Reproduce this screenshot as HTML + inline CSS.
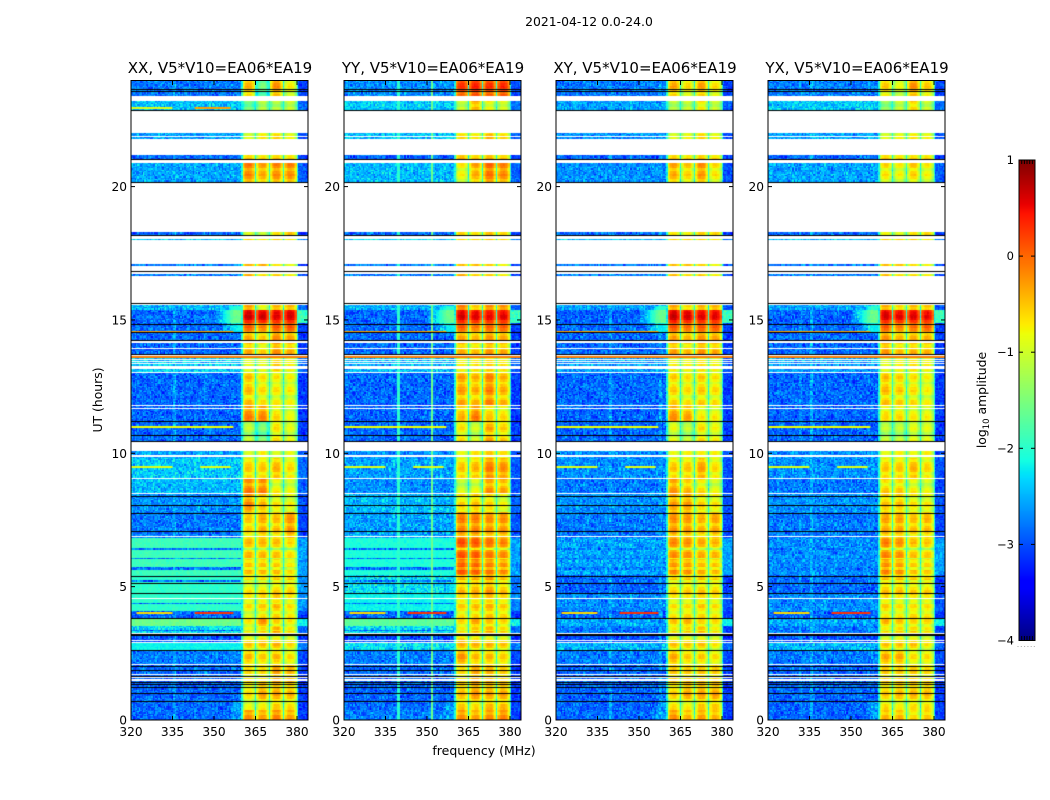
<!DOCTYPE html>
<html><head><meta charset="utf-8"><title>Dynamic spectra 2021-04-12</title>
<style>
html,body{margin:0;padding:0;background:#fff;width:1050px;height:800px;overflow:hidden}
#fig{position:relative;width:1050px;height:800px;background:#fff}
canvas{position:absolute;display:block}
svg{position:absolute;left:0;top:0}
text{font-family:"DejaVu Sans","Liberation Sans",sans-serif;fill:#000}
</style></head>
<body>
<div id="fig">
<svg id="ov" width="1050" height="800"></svg>
</div>
<script>
// ---- shared chart data (hours, MHz, log10 amplitude) ----
const xTickValues=[320,335,350,365,380];
const yTickValues=[0,5,10,15,20];
const colorbarTicks=[1,0,-1,-2,-3,-4];
const rowStarts=[0,.4,.71,1.46,2.1,2.62,2.89,3.26,3.56,3.82,4.12,4.76,5.44,6.86,7.8,8.5,9.03,9.86,10.45,11.2,11.8,13.05,13.76,14.55,14.88,15.41,16,16.9,17.5,18.15,20,21,21.5,22.5,23.3];
const subBandEdges=[[360.5,365],[365.5,370],[370.5,375],[375.5,380]];
const subBandShape=[-.5,-.25,-.08,0,0,0,0,-.08,-.25,-.5];
const flaggedBands=[[23.21,23.4],[22.05,22.85],[22,22.03],[21.86,21.9],[21.19,21.78],[20.89,21.03],[18.3,20.17],[18.03,18.15],[17.1,18],[17.02,17.04],[16.73,16.97],[15.56,16.66],[14.15,14.2],[13.9,13.95],[13.65,13.7],[13.5,13.55],[13.42,13.45],[13.34,13.37],[13.17,13.26],[13.02,13.06],[11.76,11.81],[11.67,11.71],[10.08,10.43],[9.86,9.94],[9.04,9.07],[8.5,8.53],[6.85,6.89],[4.55,4.59],[3.25,3.27],[2.98,3.01],[2.89,2.92],[2.07,2.1],[1.67,1.71],[1.57,1.6],[1.46,1.53]];
const zeroLines=[23.67,23.58,22.87,21.05,20.19,18.17,16.82,15.63,14.86,14.53,14.26,13.72,11.21,10.7,10.45,8.39,8.06,7.77,7.07,5.41,5.13,4.76,3.82,3.24,3.19,2.64,2.04,1.89,1.65,1.44,1.35,1.25,1,.71];
const darkStripes=[[6.38,6.47],[6.03,6.11],[5.67,5.75],[5.2,5.27],[4.36,4.42],[3.36,3.42]];
const riseBands=[[14.88,15.41,350,360.5,-1.6],[15.41,15.56,354,360.5,-2],[0,.7,356,360.5,-2.6],[14.55,14.88,352,360.5,-2.2]];
const tailBands=[[14.88,15.41,-1.9],[3.56,3.82,-2.2],[5.44,6.86,-2.6]];
// hour, start MHz, end MHz, level, panel (-1 = all panels)
const rfiLines=[[23.0,320,335,-.9,0],[23.0,343,356,-.3,0],[14.6,320,357,-.3,-1],[13.63,320,384,-.1,-1],[11.03,320,357,-.8,-1],[9.53,320,335,-.9,-1],[9.53,345,356,-.9,-1],[4.04,322,335,-.6,-1],[4.04,343,357,.3,-1]];
const stripeOffsets=[0,-.1,-.4,-.2,.05,0,-.3,-.5,-.1,.1,0,-.2,-.45,-.15,.05,-.1,-.35,0,.1];
const grainValues=[.7,-.4,.1,-.9,.5,-.2,.9,-.6,.3,-.1,-.8,.6,.2,-.5,1,-.3,.4,-.7,0,.8,-1,.3,-.2,.6,-.6,.1,.9,-.4,-.8,.5,-.1,.7,-.5,.2,-.9,.4,-.3,.8,-.7,0,.6];

const xxBackground=[-3,-3,-3,-3,-2.9,-2.3,-3.1,-2.4,-1.7,-3,-2.1,-2.1,-2,-2.9,-2.8,-2.6,-2.5,-2.7,-3,-3,-3,-2.5,-3,-3,-3,-2.6,-2.9,-2.9,-2.5,-3,-2.7,-3,-2.7,-2.55,-2.9];
const xxSubBands=[[-.1,-.2,-.05,-.2],[-.8,-.7,-.5,-.6],[-.6,-.3,-.3,-.4],[-.6,-.6,-.3,-.4],[-.4,-.5,-.4,-.6],[-.5,-.5,-.4,-.6],[-.6,-.5,-.6,-.7],[-.7,-.5,-.3,-.6],[-.7,-.2,-.6,-.7],[-.8,-.6,-.5,-.6],[-.6,-.5,-.4,-.6],[-.6,-.6,-.5,-.5],[-.4,-.4,-.45,-.6],[-.5,-.35,-.45,-.2],[-.1,-.35,-.6,-.7],[-.05,-.1,-.7,-.8],[-.5,-.5,-.4,-.6],[-.9,-.7,-.9,-.8],[-1,-1.4,-.6,-.8],[-.1,-.15,-.6,-.8],[-.4,-.6,-.65,-.7],[-.8,-.8,-.5,-.7],[-.3,-.5,-.15,-.3],[.1,-.1,.1,.15],[.65,.6,.55,.6],[-.1,-.6,-.2,-.2],[-.3,-.6,-.5,-.7],[-.4,-.4,-.7,-.9],[-.6,-.7,-.6,-.7],[-.7,-.9,-.5,-.3],[-.1,-.3,-.15,-.15],[-.3,-.4,-.3,-.4],[-.9,-.7,-.6,-.8],[-1.4,-1,-1,-.9],[-.35,-1.5,-.2,-.7]];
const xxVerticals=[[336,-2.6],[347,-2.7]];

const yyBackground=[-2.9,-3,-3,-3,-2.9,-2.4,-3.1,-2.4,-1.8,-3,-2.3,-2.4,-2.2,-2.7,-2.6,-2.8,-2.7,-2.8,-3,-3,-3,-2.6,-3,-3,-3,-2.6,-2.9,-2.9,-2.4,-3,-2.6,-3,-2.55,-2.5,-2.8];
const yySubBands=[[-.1,-.2,-.1,-.05],[-.5,-.6,-.4,-.4],[-.4,-.2,-.3,-.3],[-.6,-.3,-.4,-.5],[-.2,-.4,-.4,-.5],[-.4,-.4,-.4,-.5],[-.4,-.5,-.6,-.6],[-.6,-.4,-.3,-.5],[-.6,-.3,-.5,-.6],[-.6,-.5,-.4,-.5],[-.5,-.4,-.35,-.5],[-.35,-.3,-.2,-.4],[.15,.1,-.05,-.15],[-.1,-.1,-.2,-.2],[-.5,-.4,-.5,-.7],[-.9,-.8,-.2,-.3],[-.5,-.4,-.1,-.2],[-.8,-.6,-.5,-.6],[-.6,-.9,-.3,-.5],[-.4,-.1,-.5,-.6],[-.25,-.35,-.1,-.35],[-.7,-.6,-.5,-.6],[-.3,-.4,-.2,-.3],[.1,-.05,.05,.1],[.6,.55,.5,.55],[.1,-.3,0,0],[-.3,-.5,-.5,-.7],[-.5,-.5,-.6,-.8],[-.6,-.6,-.5,-.6],[-.4,-.5,-.3,-.4],[-.7,-.3,0,-.1],[-.2,-.3,-.2,-.3],[-.6,-.7,-.4,-.6],[-.9,-.3,-.7,-.8],[.3,.4,.3,.35]];
const yyVerticals=[[340,-2],[352,-1.6]];

const xyBackground=[-3,-3,-3,-3,-2.9,-2.6,-3.1,-2.9,-2.7,-3,-2.8,-3,-2.7,-2.9,-2.8,-2.9,-2.8,-2.8,-3,-3,-3,-2.7,-3,-3,-3,-2.7,-2.9,-2.9,-2.6,-3,-2.8,-3,-2.8,-2.7,-2.9];
const xySubBands=[[-.1,-.3,-.2,-.3],[-.6,-.7,-.5,-.5],[-.5,-.3,-.3,-.3],[-.5,-.5,-.5,-.5],[-.3,-.5,-.5,-.6],[-.5,-.5,-.5,-.7],[-.6,-.6,-.6,-.7],[-.6,-.5,-.4,-.6],[-.5,-.4,-.6,-.6],[-.6,-.5,-.5,-.6],[-.6,-.6,-.5,-.6],[-.5,-.45,-.45,-.5],[-.15,-.2,-.35,-.4],[-.2,-.25,-.4,-.3],[-.2,-.2,-.5,-.6],[-.2,-.4,-.6,-.8],[-.5,-.5,-.3,-.6],[-.8,-.7,-.7,-.7],[-.8,-1,-.6,-.7],[-.2,-.3,-.7,-.7],[-.5,-.6,-.5,-.6],[-.7,-.7,-.6,-.7],[-.25,-.4,-.2,-.3],[.15,0,.1,.15],[.65,.6,.55,.55],[-.1,-.4,-.2,-.2],[-.4,-.6,-.5,-.7],[-.5,-.5,-.6,-.8],[-.6,-.6,-.6,-.7],[-.5,-.6,-.4,-.4],[-.3,-.5,-.2,-.6],[-.3,-.4,-.3,-.4],[-.9,-.8,-.6,-.8],[-1,-.9,-.6,-.9],[-.3,-.6,-.3,-.6]];
const xyVerticals=[[340,-2.6],[358,-2.6]];

const yxBackground=[-3,-3,-3,-3,-2.9,-2.6,-3.1,-2.9,-2.7,-3,-2.8,-3,-2.8,-2.9,-2.8,-2.9,-2.8,-2.8,-3,-3,-3,-2.7,-3,-3,-3,-2.7,-2.9,-2.9,-2.6,-3,-2.7,-3,-2.7,-2.5,-2.9];
const yxSubBands=[[-.3,-.3,-.5,-.4],[-.6,-.7,-.6,-.6],[-.5,-.4,-.4,-.4],[-.5,-.5,-.5,-.6],[-.3,-.3,-.6,-.6],[-.5,-.5,-.5,-.7],[-.7,-.6,-.6,-.7],[-.6,-.5,-.5,-.6],[-.4,-.5,-.6,-.6],[-.6,-.6,-.5,-.6],[-.5,-.6,-.6,-.6],[-.4,-.4,-.5,-.5],[-.1,-.2,-.45,-.5],[-.3,-.3,-.45,-.4],[-.4,-.4,-.6,-.65],[-.5,-.5,-.7,-.8],[-.5,-.5,-.4,-.6],[-.8,-.7,-.8,-.7],[-1,-1,-.8,-.8],[-.6,-.6,-.7,-.75],[-.4,-.5,-.6,-.7],[-.8,-.7,-.6,-.7],[-.2,-.4,-.35,-.35],[.1,-.1,0,.1],[.6,.55,.55,.5],[-.15,-.4,-.25,-.3],[-.4,-.6,-.6,-.7],[-.5,-.5,-.7,-.8],[-.6,-.6,-.6,-.7],[-.6,-.7,-.5,-.4],[-.6,-.7,-.5,-.7],[-.3,-.4,-.4,-.4],[-.9,-.8,-.7,-.8],[-1.2,-.9,-.5,-.9],[-.5,-.8,-.2,-.5]];
const yxVerticals=[[336,-2.5],[332,-2.7]];

const panelTitles=["XX, V5*V10=EA06*EA19","YY, V5*V10=EA06*EA19","XY, V5*V10=EA06*EA19","YX, V5*V10=EA06*EA19"];
const panelLefts=[131,344,556,768];
const panelBackgrounds=[xxBackground,yyBackground,xyBackground,yxBackground];
const panelSubBands=[xxSubBands,yySubBands,xySubBands,yxSubBands];
const panelVerticals=[xxVerticals,yyVerticals,xyVerticals,yxVerticals];

// ---- axis functions ----
const axTop=81,axBottom=720,axWidth=177;
function xScale(f){return (f-320)*2.767;}
function yScale(h){return axBottom-h*26.67;}
function cbScale(v){return 160+(1-v)*96.1;}

function jet(v){
  const t=Math.max(0,Math.min(1,(v+4)/5));
  const seg=(p)=>{for(let i=1;i<p.length;i++){if(t<=p[i][0]){const a=p[i-1],b=p[i];return a[1]+(b[1]-a[1])*(t-a[0])/(b[0]-a[0]);}}return p[p.length-1][1];};
  const r=seg([[0,0],[.35,0],[.66,1],[.89,1],[1,.5]]);
  const g=seg([[0,0],[.125,0],[.375,1],[.64,1],[.91,0],[1,0]]);
  const b=seg([[0,.5],[.11,1],[.34,1],[.65,0],[1,0]]);
  return "rgb("+Math.round(r*255)+","+Math.round(g*255)+","+Math.round(b*255)+")";
}
function rowIndex(h){let k=0;for(let i=0;i<rowStarts.length;i++){if(h>=rowStarts[i])k=i;}return k;}
function inBands(h,list){for(const b of list){if(h>=b[0]&&h<b[1])return true;}return false;}

function grainAt(cx,rx,p){
  const a=cx+p*13,b=rx+p*5;
  const i1=(a*a*3+b*b*7+a*b*5+a*11+b*17)%41;
  const i2=(a*b*3+a*17+b*b*2+b*29)%37;
  return (grainValues[i1]+grainValues[i2])*.7;
}

function cellValue(p,h,f,k,r){
  const idx=rowIndex(h),bg=panelBackgrounds[p][idx],sb=panelSubBands[p][idx];
  const dark=inBands(h,darkStripes);
  const n=grainAt(k,r,p);
  for(let s=0;s<4;s++){
    const e=subBandEdges[s];
    if(f>=e[0]&&f<e[1]){
      const u=(f-e[0])/(e[1]-e[0]);
      const shape=subBandShape[Math.min(subBandShape.length-1,Math.floor(u*subBandShape.length))];
      const st=stripeOffsets[(r>>1)%stripeOffsets.length];
      return sb[s]+shape+st*.7+n*.06-(dark?.4:0);
    }
  }
  if(f>=360&&f<=380.5)return -2.1+n*.2;
  if(f>=380){
    let tail=(bg-3.2)/2;
    for(const b of tailBands){if(h>=b[0]&&h<b[1])tail=b[2];}
    return tail+n*.25;
  }
  let base=dark?-2.8:bg+.12;
  for(const b of riseBands){
    if(h>=b[0]&&h<b[1]&&f>=b[2]){base=base+(b[4]-base)*Math.min(1,(f-b[2])/(b[3]-b[2]-3));}
  }
  for(const v of panelVerticals[p]){if(Math.abs(f-v[0])<.3)base=Math.max(base,v[1]);}
  return base+n*(base>-2.25?.1:.38);
}

const fig=document.getElementById('fig'),ov=document.getElementById('ov');
const NS="http://www.w3.org/2000/svg";
function mk(tag,attrs,txt){const e=document.createElementNS(NS,tag);for(const k in attrs)e.setAttribute(k,attrs[k]);if(txt!==undefined)e.textContent=txt;ov.appendChild(e);return e;}
function lineEl(a,b,c,d,col){return mk('line',{x1:a,y1:b,x2:c,y2:d,stroke:col||'#000','stroke-width':1});}

panelTitles.forEach(function(title,p){
  const L=panelLefts[p];
  const cv=document.createElement('canvas');
  cv.width=axWidth;cv.height=axBottom-axTop;
  cv.style.left=L+'px';cv.style.top=axTop+'px';
  
  
  fig.insertBefore(cv,ov);
  const c=cv.getContext('2d');
  const dH=.05,dF=.5;
  for(let r=0;r<480;r++){
    const h=r*dH;
    const y0=Math.floor(yScale(h+dH))-axTop,y1=Math.ceil(yScale(h))-axTop;
    for(let k=0;k<128;k++){
      const f=320+k*dF;
      c.fillStyle=jet(cellValue(p,h+dH/2,f+dF/2,k,r));
      const x0=Math.floor(xScale(f));
      c.fillRect(x0,y0,Math.ceil(xScale(f+dF))-x0,y1-y0);
    }
  }
  for(const l of rfiLines){
    if(l[4]>=0&&l[4]!==p)continue;
    c.fillStyle=jet(l[3]);
    c.fillRect(xScale(l[1]),Math.round(yScale(l[0]))-axTop,xScale(l[2])-xScale(l[1]),2);
  }
  c.fillStyle='#fff';
  for(const b of flaggedBands){
    const y0=Math.round(yScale(b[1]))-axTop,y1=Math.round(yScale(b[0]))-axTop;
    c.fillRect(0,y0,axWidth,Math.max(1,y1-y0));
  }
  c.fillStyle='#000';
  for(const z of zeroLines){c.fillRect(0,Math.round(yScale(z))-axTop,axWidth,1);}

  const frame=mk('rect',{x:L,y:80.5,width:axWidth,height:639.5,fill:'none',stroke:'#000','stroke-width':1});
  
  
  const t=mk('text',{x:L+axWidth/2+.5,y:73,'font-size':15,'text-anchor':'middle'},title);
  
  
  xTickValues.forEach(function(v){
    const x=L+xScale(v);
    const a=lineEl(x,axBottom,x,axBottom-4);
    
    
    const b=lineEl(x,axTop,x,axTop+4);
    
    
    const l=mk('text',{x:x,y:736,'font-size':12.2,'text-anchor':'middle'},String(v));
    
    
  });
  yTickValues.forEach(function(v){
    const y=yScale(v);
    const a=lineEl(L,y,L+4,y);
    
    
    const b=lineEl(L+axWidth-4,y,L+axWidth,y);
    
    
    const l=mk('text',{x:L-4,y:y+4.5,'font-size':12.2,'text-anchor':'end'},String(v));
    
    
  });
});

// ---- colour bar ----
const cb=document.createElement('canvas');
cb.width=16;cb.height=481;
cb.style.left='1019px';cb.style.top='160px';


fig.insertBefore(cb,ov);
const cc=cb.getContext('2d');
for(let i=0;i<481;i++){cc.fillStyle=jet(1-i/96.1);cc.fillRect(0,i,16,1);}
const cbFrame=mk('rect',{x:1019,y:160,width:16,height:480.5,fill:'none',stroke:'#000','stroke-width':1});


colorbarTicks.forEach(function(v){
  const y=cbScale(v);
  const a=lineEl(1019,y,1023,y);
  
  
  const b=lineEl(1031,y,1035,y);
  
  
  const l=mk('text',{x:1014,y:y+4,'font-size':11.5,'text-anchor':'end'},(v<0?'\u2212'+(-v):String(v)));
  
  
});
[1021.7,1024.4,1027,1029.7,1032.4].forEach(function(x){
  const a=lineEl(x,160,x,164);
  
  
  const b=lineEl(x,636,x,640);
  
  
});
[1018,1021.3,1024.6,1027.9,1031.2,1034.3].forEach(function(x){
  const d=mk('rect',{x:x-.5,y:646,width:1,height:1,fill:'#aaa'});
  
  
});
</script>
<svg width="1050" height="800">
<text x="589" y="26" font-size="12.4" text-anchor="middle">2021-04-12 0.0-24.0</text>
<text x="484" y="755" font-size="12.5" text-anchor="middle">frequency (MHz)</text>
<text transform="translate(102,400) rotate(-90)" font-size="12.4" text-anchor="middle">UT (hours)</text>
<text transform="translate(986,400) rotate(-90)" font-size="12.4" text-anchor="middle">log<tspan font-size="8.5" dy="3">10</tspan><tspan dy="-3"> amplitude</tspan></text>
</svg>
</body></html>
